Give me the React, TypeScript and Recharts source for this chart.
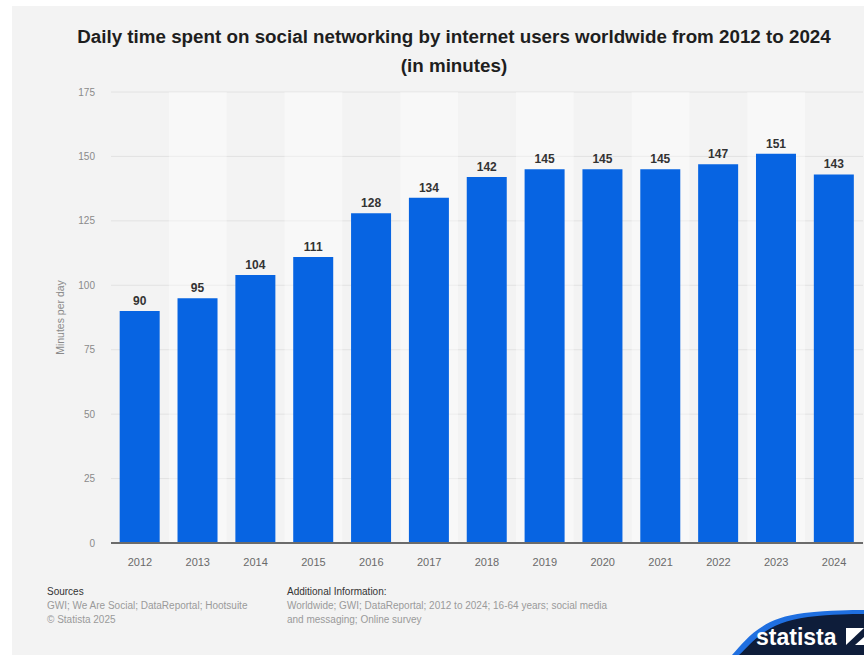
import React from 'react';
import { BarChart, Bar, XAxis, YAxis, CartesianGrid, LabelList, ReferenceArea, Label } from 'recharts';

const years = ['2012', '2013', '2014', '2015', '2016', '2017', '2018', '2019', '2020', '2021', '2022', '2023', '2024'];
const minutes = [90, 95, 104, 111, 128, 134, 142, 145, 145, 145, 147, 151, 143];
const yTicks = [0, 25, 50, 75, 100, 125, 150, 175];

const data = years.map((y, i) => ({ year: y, value: minutes[i] }));
const stripeYears = years.filter((_, i) => i % 2 === 1);

const FONT = '"Liberation Sans", Arial, Helvetica, sans-serif';

const YLabel = (props: any) => {
  const vb = props.viewBox || {};
  const x = vb.x + 9;
  const y = vb.y + vb.height / 2;
  return (
    <text x={x} y={y} transform={`rotate(-90, ${x}, ${y})`} textAnchor="middle" dominantBaseline="central"
      fill="#8a8a8a" fontSize={10.5} fontFamily={FONT}>Minutes per day</text>
  );
};

export default function App() {
  return (
    <div style={{ position: 'absolute', left: 0, top: 0, width: 864, height: 655, background: '#ffffff', overflow: 'hidden', fontFamily: FONT }}>
      <div style={{ position: 'absolute', left: 12, top: 6, width: 852, height: 649, background: '#f3f3f3' }} />
      <div style={{ position: 'absolute', left: 12, top: 22, width: 884, textAlign: 'center', fontWeight: 'bold', fontSize: 18.8, lineHeight: '29px', color: '#1e1e1e' }}>
        Daily time spent on social networking by internet users worldwide from 2012 to 2024<br />(in minutes)
      </div>
      <div style={{ position: 'absolute', left: 0, top: 0 }}>
        <BarChart width={864} height={655} data={data} margin={{ top: 92, right: 1, bottom: 82, left: 51 }} barCategoryGap="15%">
          {stripeYears.map((y) => (
            <ReferenceArea key={y} x1={y} x2={y} y1={0} y2={175} fill="#ffffff" fillOpacity={0.4} stroke="none" ifOverflow="visible" />
          ))}
          <CartesianGrid vertical={false} stroke="#e2e2e2" strokeWidth={1} />
          <XAxis dataKey="year" axisLine={{ stroke: '#6b6b6b', strokeWidth: 2 }} tickLine={false} tickMargin={9}
            tick={{ fill: '#6a6a6a', fontSize: 11, fontFamily: FONT }} interval={0} />
          <YAxis domain={[0, 175]} ticks={yTicks} axisLine={false} tickLine={false} tickMargin={10} width={60}
            tick={{ fill: '#8a8a8a', fontSize: 10, fontFamily: FONT }}>
            <Label content={YLabel} />
          </YAxis>
          <Bar dataKey="value" fill="#0764e2" isAnimationActive={false}>
            <LabelList dataKey="value" position="top" offset={6} fill="#333333" fontSize={12} fontWeight="bold" fontFamily={FONT} />
          </Bar>
        </BarChart>
      </div>
      <div style={{ position: 'absolute', left: 47, top: 585, fontSize: 10, lineHeight: '14px', color: '#9a9a9a' }}>
        <div style={{ color: '#333' }}>Sources</div>
        <div>GWI; We Are Social; DataReportal; Hootsuite</div>
        <div>© Statista 2025</div>
      </div>
      <div style={{ position: 'absolute', left: 287, top: 585, fontSize: 10, lineHeight: '14px', color: '#9a9a9a', width: 360 }}>
        <div style={{ color: '#333' }}>Additional Information:</div>
        <div>Worldwide; GWI; DataReportal; 2012 to 2024; 16-64 years; social media</div>
        <div>and messaging; Online survey</div>
      </div>
      <svg style={{ position: 'absolute', left: 0, top: 0 }} width={864} height={655}>
        <path d="M732,655 C746,640 760,618 804,613 C832,610 850,610 864,610 L864,655 Z" fill="#1f6fe0" />
        <path d="M739,655 C752,643 766,622 808,617 C834,614 850,614 864,614 L864,655 Z" fill="#0e1d3a" />
        <text x={756} y={645} fill="#ffffff" fontSize={23} fontWeight="bold" fontFamily={FONT}>statista</text>
        <rect x={846} y={628} width={18} height={17} fill="#ffffff" />
        <path d="M846,645 L864,628 L864,637 L855,645 Z" fill="#0e1d3a" />
      </svg>
    </div>
  );
}
